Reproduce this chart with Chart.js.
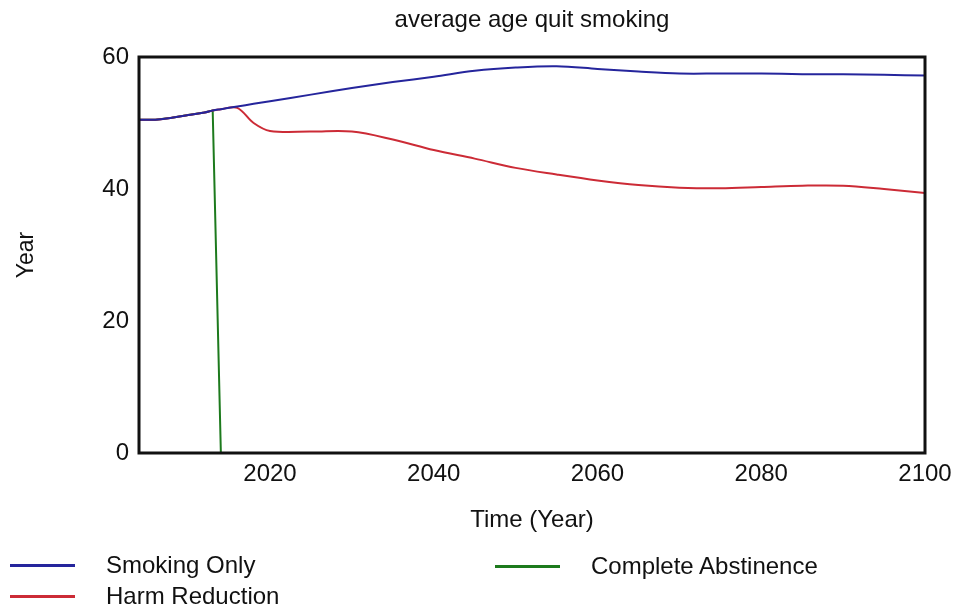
<!DOCTYPE html>
<html>
<head>
<meta charset="utf-8">
<title>average age quit smoking</title>
<script src="https://cdn.jsdelivr.net/npm/chart.js@4.4.0/dist/chart.umd.min.js"></script>
<style>
  html, body { margin: 0; padding: 0; background: #fff; }
  #wrap { position: relative; width: 963px; height: 611px; font-family: "Liberation Sans", Arial, sans-serif; }
  #legend .item { position: absolute; height: 30px; display: flex; align-items: center; font-size: 24px; color: #111; white-space: nowrap; }
  #legend .line { display: inline-block; width: 65px; height: 3px; margin-right: 31px; }
</style>
</head>
<body>
<div id="wrap">
  <canvas id="chart" width="963" height="611"></canvas>
  <div id="legend"></div>
</div>
<script>
// time axis (years) shared by all runs
const years = [2004, 2006, 2008, 2010, 2012, 2013, 2014, 2016, 2018, 2020, 2025, 2030, 2035, 2040,
  2045, 2050, 2055, 2060, 2065, 2070, 2075, 2080, 2085, 2090, 2095, 2100];

const smokingOnly = [50.5, 50.5, 50.8, 51.2, 51.6, 51.9, 52.1, 52.5, 52.9, 53.3, 54.3, 55.3, 56.2, 57.0,
  57.9, 58.4, 58.6, 58.2, 57.8, 57.5, 57.5, 57.5, 57.4, 57.4, 57.3, 57.2];

const harmReduction = [50.5, 50.5, 50.8, 51.2, 51.6, 51.9, 52.1, 52.3, 50.0, 48.8, 48.7, 48.7, 47.5, 45.9,
  44.6, 43.2, 42.2, 41.3, 40.6, 40.2, 40.1, 40.3, 40.5, 40.5, 40.0, 39.4];

const completeAbstinence = [50.5, 50.5, 50.8, 51.2, 51.6, 51.9, 0, 0, 0, 0, 0, 0, 0, 0,
  0, 0, 0, 0, 0, 0, 0, 0, 0, 0, 0, 0];

const xTicks = [2020, 2040, 2060, 2080, 2100];
const yTicks = [0, 20, 40, 60];

const FONT = '"Liberation Sans", Arial, sans-serif';

function toPoints(values) {
  return years.map((y, i) => ({ x: y, y: values[i] }));
}

// black box round the plot area
const frame = {
  id: 'frame',
  afterDatasetsDraw(chart) {
    const { ctx, chartArea } = chart;
    ctx.save();
    ctx.strokeStyle = '#111';
    ctx.lineWidth = 3;
    ctx.strokeRect(chartArea.left, chartArea.top, chartArea.right - chartArea.left, chartArea.bottom - chartArea.top);
    ctx.restore();
  }
};

const ctx = document.getElementById('chart');

const chart = new Chart(ctx, {
  type: 'line',
  data: {
    datasets: [
      {
        label: 'Smoking Only',
        data: toPoints(smokingOnly),
        borderColor: '#25259c',
        borderWidth: 2,
        pointRadius: 0,
        tension: 0.35
      },
      {
        label: 'Harm Reduction',
        data: toPoints(harmReduction),
        borderColor: '#cc2b36',
        borderWidth: 2,
        pointRadius: 0,
        tension: 0.35
      },
      {
        label: 'Complete Abstinence',
        data: toPoints(completeAbstinence),
        borderColor: '#1d7a1d',
        borderWidth: 2,
        pointRadius: 0,
        tension: 0
      }
    ]
  },
  options: {
    responsive: false,
    animation: false,
    devicePixelRatio: 1,
    layout: { padding: { left: 0, right: 38, top: 0, bottom: 76 } },
    plugins: {
      legend: { display: false },
      tooltip: { enabled: false },
      title: {
        display: true,
        text: 'average age quit smoking',
        fullSize: false,
        color: '#111',
        font: { family: FONT, size: 24, weight: 'normal' },
        padding: { top: 6, bottom: 22.2 }
      }
    },
    scales: {
      x: {
        type: 'linear',
        min: 2004,
        max: 2100,
        afterBuildTicks: (scale) => { scale.ticks = xTicks.map(v => ({ value: v })); },
        afterFit: (scale) => { scale.height = 82; },
        grid: { display: false, drawTicks: false },
        border: { display: false },
        ticks: {
          padding: 7,
          color: '#111',
          font: { family: FONT, size: 24 },
          callback: (v) => String(v)
        },
        title: {
          display: true,
          text: 'Time (Year)',
          color: '#111',
          font: { family: FONT, size: 24 },
          padding: { top: 0, bottom: 0 }
        }
      },
      y: {
        min: 0,
        max: 60,
        afterBuildTicks: (scale) => { scale.ticks = yTicks.map(v => ({ value: v })); },
        afterFit: (scale) => { scale.width = 139; },
        grid: { display: false, drawTicks: false },
        border: { display: false },
        ticks: {
          padding: 10,
          color: '#111',
          font: { family: FONT, size: 24 }
        },
        title: {
          display: true,
          text: 'Year',
          color: '#111',
          font: { family: FONT, size: 23 },
          padding: { top: 13, bottom: 0 }
        }
      }
    }
  },
  plugins: [frame]
});

// legend under the chart, two columns like the original
const legendSlots = [
  { left: 10, top: 565 },
  { left: 10, top: 596 },
  { left: 495, top: 566 }
];
const legendEl = document.getElementById('legend');
chart.data.datasets.forEach((ds, i) => {
  const item = document.createElement('div');
  item.className = 'item';
  item.style.left = legendSlots[i].left + 'px';
  item.style.top = (legendSlots[i].top - 15) + 'px';
  const line = document.createElement('span');
  line.className = 'line';
  line.style.background = ds.borderColor;
  item.appendChild(line);
  item.appendChild(document.createTextNode(ds.label));
  legendEl.appendChild(item);
});
</script>
</body>
</html>
